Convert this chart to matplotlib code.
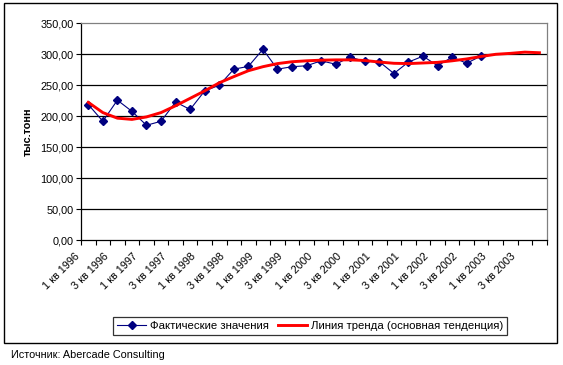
import numpy as np
import matplotlib.pyplot as plt
from matplotlib.patches import Rectangle
from matplotlib.transforms import ScaledTranslation

plt.rcParams['font.family'] = ['Liberation Sans', 'DejaVu Sans']

# quarters 1996..2003
quarters = [f"{q} кв {y}" for y in range(1996, 2004) for q in range(1, 5)]

# actual values (1 кв 1996 .. 4 кв 2002)
actual = [219, 192, 226, 208, 185.5, 192, 223, 211, 241, 250,
          276, 280.5, 308, 276, 280, 281.5, 289.5, 284, 295.5, 288.5,
          288, 269, 287.5, 297, 281.5, 295.5, 285.5, 297.5]

# trend line values (1 кв 1996 .. 4 кв 2003)
trend = [222.5, 206, 197, 195, 199, 206, 217, 229, 241, 254,
         264, 273.5, 280, 285, 288, 289.5, 290.5, 291, 291, 290,
         287.5, 285.5, 285, 286, 287, 289.5, 292.5, 296.5, 300, 301.5,
         303.5, 302.5]

W, H = 563, 365
fig = plt.figure(figsize=(W / 100, H / 100), dpi=100)

# outer chart border
fig.patches.append(Rectangle((4 / W, (H - 343) / H), 553 / W, 340 / H,
                             transform=fig.transFigure, fill=False,
                             edgecolor='black', linewidth=1))

ax = fig.add_axes([81 / W, (H - 240.3) / H, (546.7 - 81) / W, (240.3 - 23.3) / H])

x_act = np.arange(len(actual))
x_tr = np.arange(len(trend))

ax.plot(x_act, actual, color='#000080', linewidth=0.8, marker='D',
        markersize=4.5, markerfacecolor='#000080', markeredgecolor='#000080',
        label='Фактические значения', zorder=3)
ax.plot(x_tr, trend, color='#ff0000', linewidth=2.1,
        label='Линия тренда (основная тенденция)', zorder=4)

ax.set_xlim(-0.5, len(quarters) - 0.5)
ax.set_ylim(0, 350)

# y axis
ax.set_yticks(np.arange(0, 351, 50))
ax.set_yticklabels([f"{v:.2f}".replace('.', ',') for v in np.arange(0, 351, 50)],
                   fontsize=7.8)
ax.tick_params(axis='y', length=3.5, width=0.8, pad=2)
for v in range(50, 350, 50):
    ax.axhline(v, color='black', linewidth=0.9, zorder=1)

# x axis: tick marks at category boundaries, labels every 2nd quarter
ax.set_xticks(np.arange(-0.5, len(quarters), 1.0))
ax.set_xticklabels([])
ax.tick_params(axis='x', which='major', length=3.5, width=0.8)
lab_pos = np.arange(0, len(quarters), 2)
ax.set_xticks(lab_pos, minor=True)
ax.set_xticklabels([quarters[i] for i in lab_pos], minor=True,
                   rotation=45, ha='right', va='top', fontsize=7.8)
ax.tick_params(axis='x', which='minor', length=0, pad=8)
offset = ScaledTranslation(-7 / 100, 0, fig.dpi_scale_trans)
for lbl in ax.xaxis.get_minorticklabels():
    lbl.set_transform(lbl.get_transform() + offset)

for s in ['left', 'bottom']:
    ax.spines[s].set_color('black')
    ax.spines[s].set_linewidth(0.9)
for s in ['top', 'right']:
    ax.spines[s].set_color('#808080')
    ax.spines[s].set_linewidth(0.9)

fig.text(28 / W, 1 - 132 / H, 'тыс.тонн', rotation=90, fontsize=7.8,
         fontweight='bold', ha='center', va='center')

leg = fig.legend(loc='center', bbox_to_anchor=((103 + 517) / 2 / W, 1 - 326 / H),
                 ncol=2, fontsize=8.2, frameon=True, fancybox=False,
                 edgecolor='black', handlelength=2.6, handletextpad=0.3,
                 columnspacing=0.8, borderpad=0.35, borderaxespad=0)
leg.get_frame().set_linewidth(0.9)

fig.text(11 / W, 1 - 355 / H, 'Источник: Abercade Consulting', fontsize=7.8,
         ha='left', va='center')

fig.savefig('out.png', dpi=100)
